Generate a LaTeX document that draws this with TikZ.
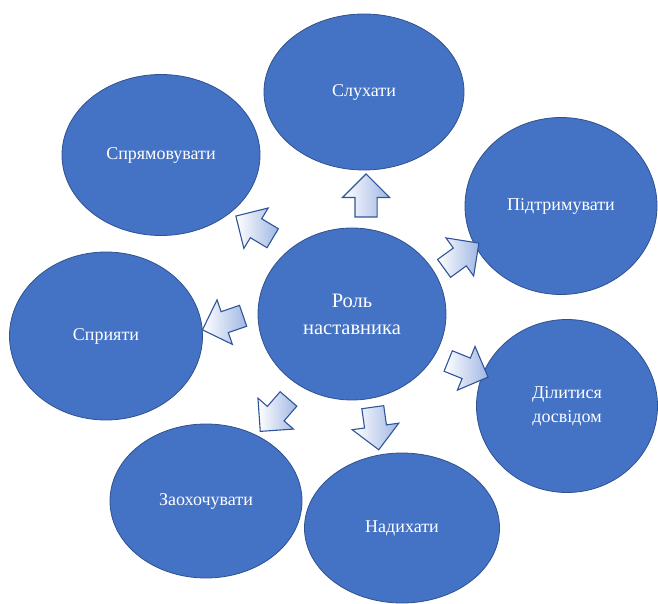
\documentclass[tikz,border=0pt]{standalone}
\usepackage{fontspec}
\setmainfont{Liberation Serif}
\newfontfamily\ovalfont{Liberation Serif}
\usetikzlibrary{shapes.geometric, shapes.arrows}

\definecolor{ovalblue}{HTML}{4472C4}
\definecolor{ovaledge}{HTML}{2F528F}
\definecolor{arrowtip}{RGB}{160,183,228}
\definecolor{arrowedge}{HTML}{2F5597}

\begin{document}
\begin{tikzpicture}[
        x=1pt, y=-1pt,
        oval/.style={ellipse, draw=ovaledge, line width=0.8pt, fill=ovalblue, text=white, align=center, inner sep=0pt, font=\ovalfont\fontsize{18}{24}\selectfont},
        hub/.style={oval, font=\ovalfont\fontsize{20.5}{27}\selectfont},
        blockarrow/.style={single arrow, draw=arrowedge, line width=1.1pt, left color=white, right color=arrowtip, inner xsep=0pt, inner ysep=10.5pt, minimum width=46pt, minimum height=43pt, single arrow head extend=12.5pt},
    ]
        \useasboundingbox (0,0) rectangle (658,604);

        % outer ovals
        \node[oval, minimum width=200pt, minimum height=156pt] (listen) at (364,92) {Слухати};
        \node[oval, minimum width=192pt, minimum height=177pt] (support) at (561,206) {Підтримувати};
        \node[oval, minimum width=181pt, minimum height=173pt] (share) at (567,406) {Ділитися\\досвідом};
        \node[oval, minimum width=195pt, minimum height=150pt] (inspire) at (402,528) {Надихати};
        \node[oval, minimum width=192pt, minimum height=154pt] (encourage) at (206,501) {Заохочувати};
        \node[oval, minimum width=193pt, minimum height=168pt] (facilitate) at (106,336) {Сприяти};
        \node[oval, minimum width=198pt, minimum height=161pt] (guide) at (161,155) {Спрямовувати};

        % centre
        \node[hub, minimum width=188pt, minimum height=172pt] (role) at (352,314) {Роль\\наставника};

        % block arrows
        \node[blockarrow, rotate=90] (a_listen) at (366,201) {};
        \node[blockarrow, rotate=36] (a_support) at (457,259) {};
        \node[blockarrow, rotate=-22] (a_share) at (463,367) {};
        \node[blockarrow, rotate=-82] (a_inspire) at (375,423) {};
        \node[blockarrow, rotate=229] (a_encourage) at (278,411) {};
        \node[blockarrow, rotate=199] (a_facilitate) at (228,321) {};
        \node[blockarrow, rotate=149] (a_guide) at (259,230) {};
    \end{tikzpicture}
\end{document}
